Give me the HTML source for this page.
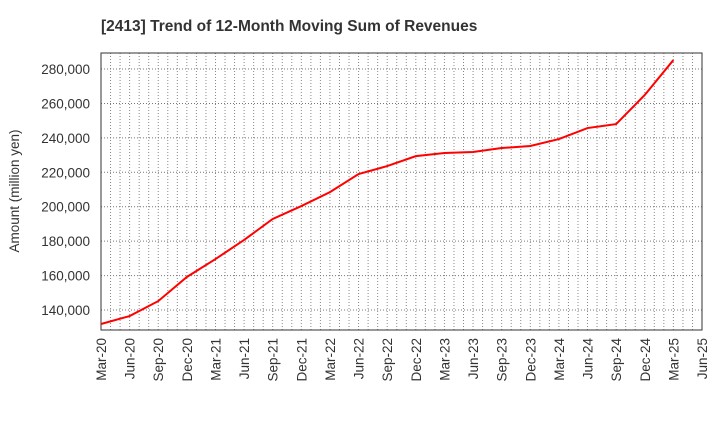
<!DOCTYPE html>
<html><head><meta charset="utf-8"><style>
body{margin:0;background:#fff;}
svg text{font-family:"Liberation Sans",sans-serif;}
</style></head><body>
<svg id="chart" width="720" height="440" xmlns="http://www.w3.org/2000/svg">
<text x="101" y="31" font-size="15.5" font-weight="bold" fill="#333">[2413]  Trend of 12-Month Moving Sum of Revenues</text>
<text transform="translate(19,191) rotate(-90)" text-anchor="middle" font-size="13.5" fill="#333">Amount (million yen)</text>
<g id="grid"></g><g id="axes"></g><g id="series"></g>
</svg>
<script>
const categories=["Mar-20","Jun-20","Sep-20","Dec-20","Mar-21","Jun-21","Sep-21","Dec-21","Mar-22","Jun-22","Sep-22","Dec-22","Mar-23","Jun-23","Sep-23","Dec-23","Mar-24","Jun-24","Sep-24","Dec-24","Mar-25","Jun-25"];
const revenues=[131900,136500,145200,159200,169600,180700,192900,200400,208500,219000,223600,229400,231200,231800,234100,235300,239300,245700,248000,264900,285200];
const yTicks=[140000,160000,180000,200000,220000,240000,260000,280000];
const L=101,R=702,T=53,B=330,yMin=128400,yMax=289300;
const ns="http://www.w3.org/2000/svg";
const x=i=>L+(R-L)*i/(categories.length-1);
const y=v=>B-(v-yMin)/(yMax-yMin)*(B-T);
function mk(tag,attrs,parent){const e=document.createElementNS(ns,tag);for(const k in attrs)e.setAttribute(k,attrs[k]);document.getElementById(parent).appendChild(e);return e;}
for(let m=1;m<(categories.length-1)*3;m++){
 const g=mk("line",{x1:x(m/3),x2:x(m/3),y1:T,y2:B,stroke:"#888","stroke-dasharray":"1,2","stroke-width":1},"grid");
 
 
}
categories.forEach((c,i)=>{
 const t=mk("text",{transform:`translate(${x(i)+5},${B+8}) rotate(-90)`,"text-anchor":"end","font-size":13.5,fill:"#333"},"axes");
 t.textContent=c;
 
 
});
yTicks.forEach(v=>{
 const g=mk("line",{x1:L,x2:R,y1:y(v),y2:y(v),stroke:"#777","stroke-dasharray":"1,2","stroke-width":1},"grid");
 
 
 const t=mk("text",{x:L-11,y:y(v)+5,"text-anchor":"end","font-size":13.5,fill:"#333"},"axes");
 t.textContent=v.toLocaleString("en-US");
 
 
});
const f=mk("rect",{x:L,y:T,width:R-L,height:B-T,fill:"none",stroke:"#333","stroke-width":1},"axes");


const p=mk("polyline",{points:revenues.map((v,i)=>x(i)+","+y(v)).join(" "),fill:"none",stroke:"#ff0000","stroke-width":2},"series");


</script>
</body></html>
